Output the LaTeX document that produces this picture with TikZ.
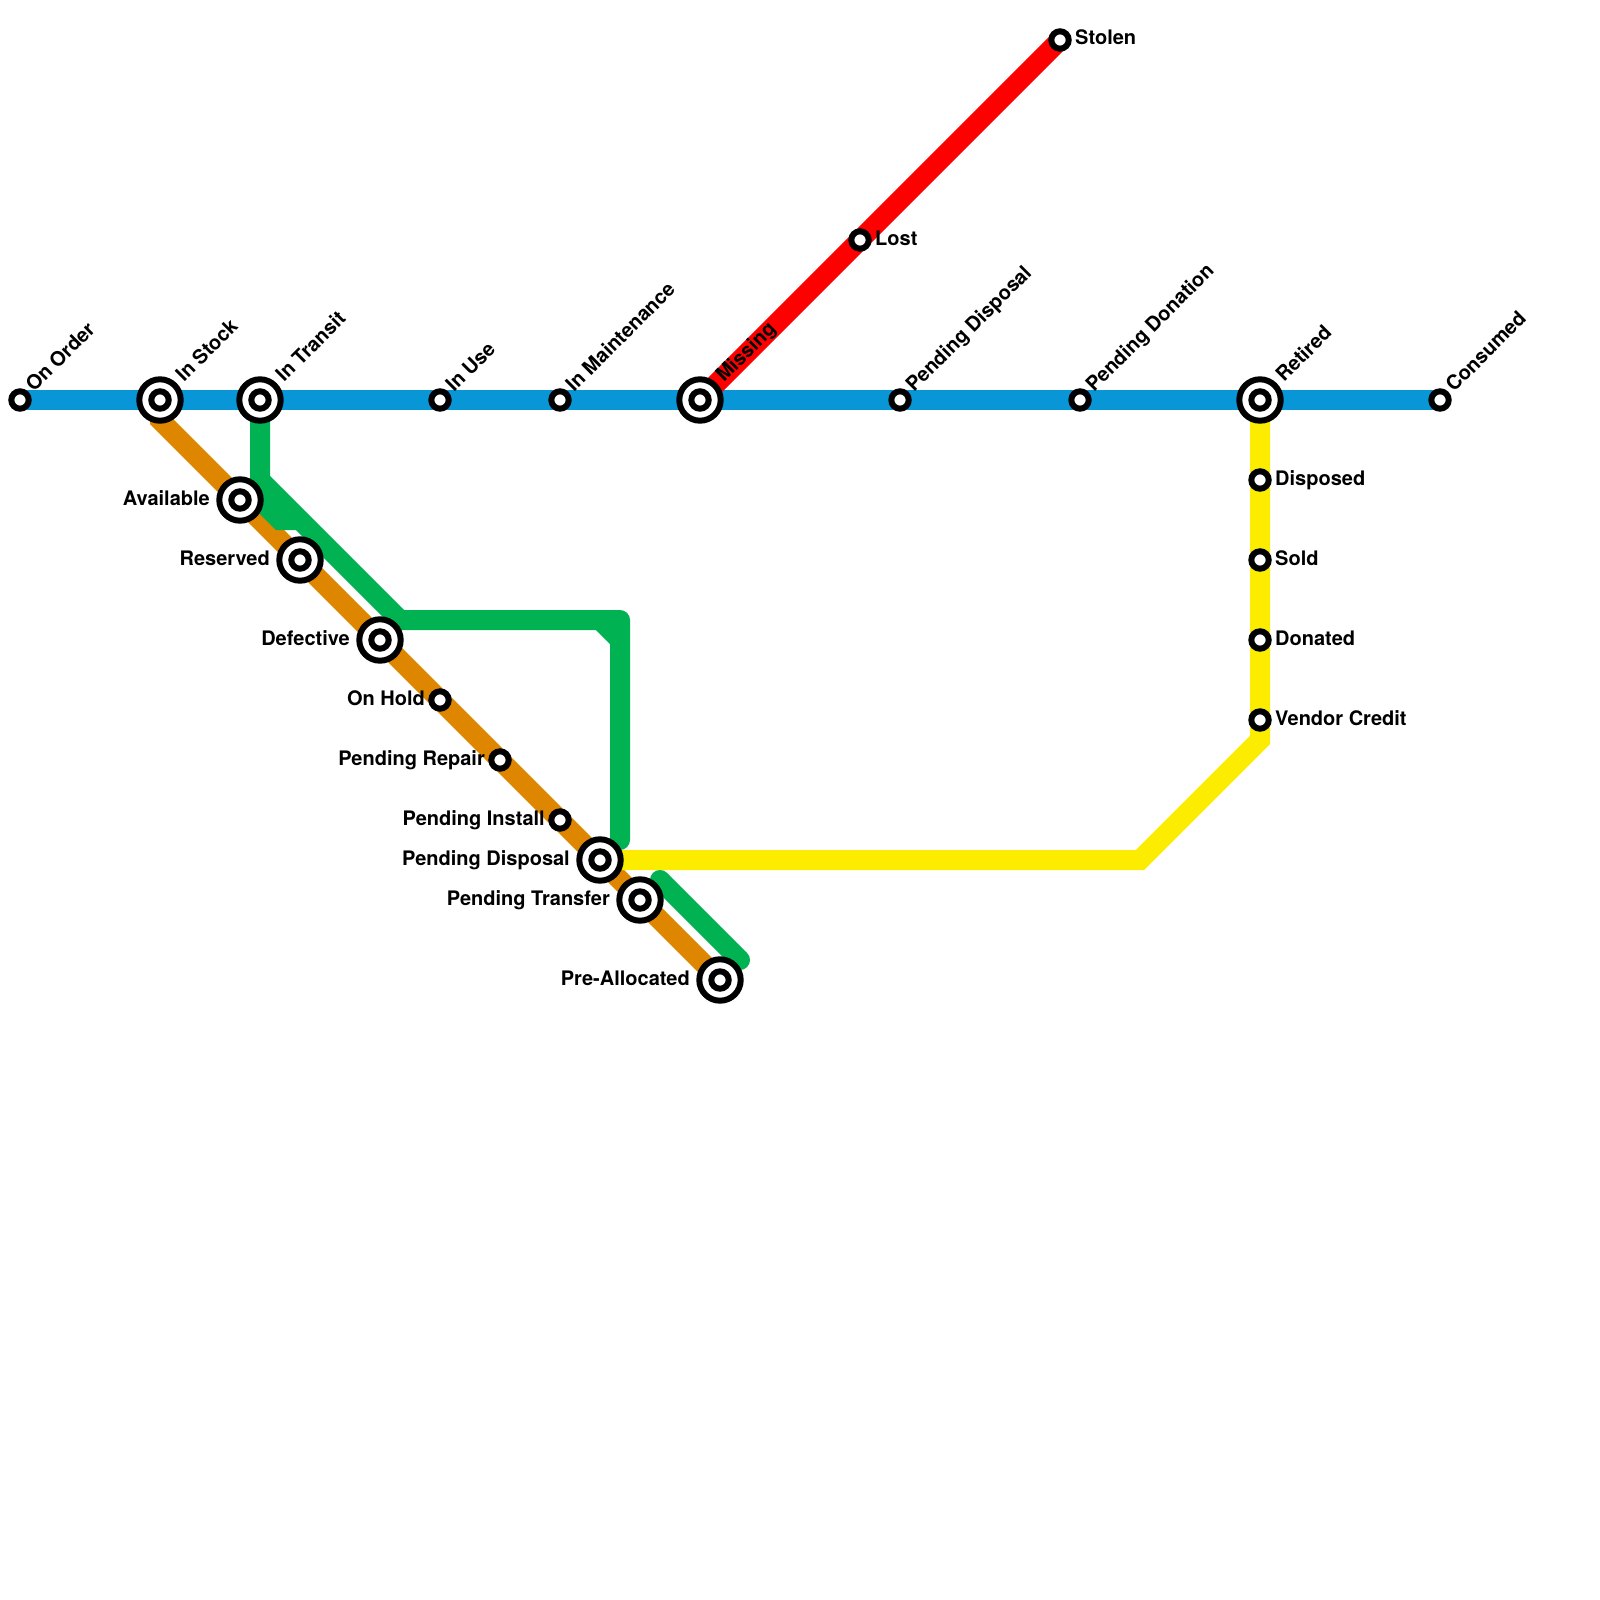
\documentclass[tikz,border=0pt]{standalone}
\usepackage{fontspec}
\setmainfont{TeX Gyre Heros}
\usepackage{xcolor}
\usetikzlibrary{calc,backgrounds}
\definecolor{lineblue}{RGB}{8,150,215}
\definecolor{linegreen}{RGB}{0,178,81}
\definecolor{lineorange}{RGB}{223,134,0}
\definecolor{lineyellow}{RGB}{251,236,0}
\definecolor{linered}{RGB}{255,0,0}
\tikzset{
  stop/.style={circle, draw=black, fill=white, line width=6pt, inner sep=0pt, outer sep=0pt, minimum size=17.4pt},
  hub/.style={stop, minimum size=41.4pt},
  tag/.style={font=\fontsize{20}{24}\bfseries\selectfont, inner sep=0pt, text=black},
  tagup/.style={tag, rotate=45, anchor=base west},
  tagright/.style={tag, anchor=base west},
  tagleft/.style={tag, anchor=base east},
  metro/.style={line width=20pt, line join=miter},
  metroround/.style={metro, line cap=round, line join=round},
}
\begin{document}
\begin{tikzpicture}[x=1pt, y=-1pt]
  \useasboundingbox (0,0) rectangle (1600,1600);
  % hubs first, the small stops after them
  \foreach \n/\x/\y in {instock/160/400, intransit/260/400, missing/700/400, retired/1260/400,
      available/240/500, reserved/300/560, defective/380/640,
      penddisp/600/860, pendtrans/640/900, prealloc/720/980} {
    \node[hub] (\n) at (\x,\y) {};
    \node[stop] (\n-in) at (\n) {};
  }
  \foreach \n/\x/\y in {onorder/20/400, inuse/440/400, inmaint/560/400, penddisptop/900/400,
      penddon/1080/400, consumed/1440/400, onhold/440/700, pendrepair/500/760,
      pendinst/560/820, lost/860/240, stolen/1060/40, disposed/1260/480, sold/1260/560,
      donated/1260/640, vendor/1260/720} {
    \node[stop] (\n) at (\x,\y) {};
  }
  % labels along the blue line
  \foreach \n/\t in {onorder/On Order, inuse/In Use, inmaint/In Maintenance,
      penddisptop/Pending Disposal, penddon/Pending Donation, consumed/Consumed} {
    \node[tagup] (\n-tag) at ($(\n)+(14,-7)$) {\t};
  }
  \foreach \n/\t in {instock/In Stock, intransit/In Transit, missing/Missing, retired/Retired} {
    \node[tagup] (\n-tag) at ($(\n)+(24,-17)$) {\t};
  }
  % labels to the side
  \foreach \n/\t in {lost/Lost, stolen/Stolen, disposed/Disposed, sold/Sold, donated/Donated,
      vendor/Vendor Credit} {
    \node[tagright] (\n-tag) at ($(\n)+(15,5)$) {\t};
  }
  \foreach \n/\t in {onhold/On Hold, pendrepair/Pending Repair, pendinst/Pending Install} {
    \node[tagleft] (\n-tag) at ($(\n)+(-15,5)$) {\t};
  }
  \foreach \n/\t in {available/Available, reserved/Reserved, defective/Defective,
      penddisp/Pending Disposal, pendtrans/Pending Transfer, prealloc/Pre-Allocated} {
    \node[tagleft] (\n-tag) at ($(\n)+(-30,5)$) {\t};
  }
  % bends
  \coordinate (orangebend) at (160,420);
  \coordinate (greensplit) at (260,480);
  \coordinate (greenknee) at (400,620);
  \coordinate (greencorner) at (620,620);
  \coordinate (greenchamfa) at (600,620);
  \coordinate (greenchamfb) at (620,640);
  \coordinate (greenfoot) at (620,840);
  \coordinate (stubbend) at (260,500);
  \coordinate (stubknee) at (280,520);
  \coordinate (stubend) at (296,520);
  \coordinate (spurtop) at (660,880);
  \coordinate (spurend) at (740,960);
  \coordinate (yellowbend) at (1140,860);
  \coordinate (yellowknee) at (1260,740);
  \begin{scope}[on background layer]
    \draw[metro, lineorange] (instock.center) -- (orangebend) -- (prealloc.center);
    \draw[metro, lineblue] (onorder.center) -- (consumed.center);
    \draw[metro, linered] (missing.center) -- (stolen.center);
    \draw[metro, lineyellow] (retired.center) -- (yellowknee) -- (yellowbend) -- (penddisp.center);
    \draw[metroround, linegreen] (intransit.center) -- (greensplit) -- (greenknee) -- (greencorner) -- (greenfoot);
    \draw[metroround, linegreen] (greenchamfa) -- (greenchamfb);
    \draw[metro, linegreen] (greensplit) -- (stubbend) -- (stubknee) -- (stubend);
    \draw[metroround, linegreen] (spurtop) -- (spurend);
  \end{scope}
\end{tikzpicture}
\end{document}
